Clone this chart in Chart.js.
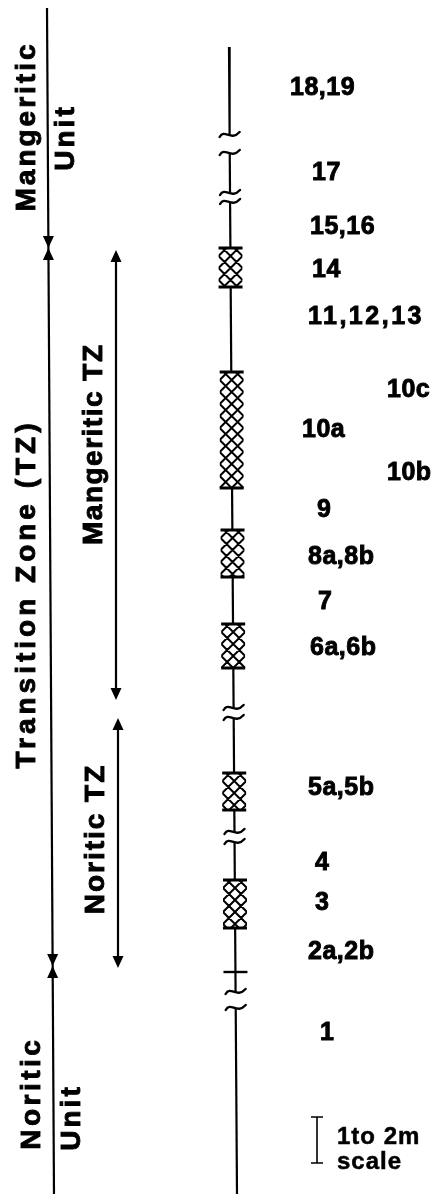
<!DOCTYPE html>
<html>
<head>
<meta charset="utf-8">
<script src="https://cdn.jsdelivr.net/npm/chart.js@4/dist/chart.umd.min.js"></script>
<style>
html,body{margin:0;padding:0;background:#fff;}
#wrap{width:443px;height:1194px;}
</style>
</head>
<body>
<div id="wrap"><canvas id="c" width="443" height="1194"></canvas></div>
<script>
// ---- data (depth levels along the section, top = 0) ----
const sampleLabels = ['18,19','17','15,16','14','11,12,13','10c','10a','10b','9','8a,8b','7','6a,6b','5a,5b','4','3','2a,2b','1'];
const sampleLevels = [88,173,227,270,317,390,430,473,510,557,602,648,788,863,903,952,1033];
const sampleColumnX = [290,312,310,312,308,387,302,387,317,308,318,310,308,315,315,308,320];

const segmentTops    = [47,153,202,718,842,1008];
const segmentBottoms = [135,193,708,832,992,1194];

const hatchedTops    = [248,372,530,624,773,880];
const hatchedBottoms = [287,488,577,668,810,928];

const tickLevels = [972];

const unitBoundaries = [248,966];          // Mangeritic Unit / TZ / Noritic Unit
const subzoneNames = ['Mangeritic TZ','Noritic TZ'];
const subzoneTops    = [250,718];
const subzoneBottoms = [700,968];

const scaleBarTop = 1117, scaleBarBottom = 1163;

// ---- layout helpers (pixel-equivalent data space) ----
const W = 443, H = 1194;
const colX = y => 229 + (y - 47) / (1194 - 47) * 8;
const leftX = y => 47 + (y - 8) / (1194 - 8) * 7;
const subzoneX = [116,118];

const datasets = [];
for (let i = 0; i < segmentTops.length; i++) {
  datasets.push({
    data: [{x: colX(segmentTops[i]), y: segmentTops[i]}, {x: colX(segmentBottoms[i]), y: segmentBottoms[i]}],
    showLine: true, borderColor: '#000', borderWidth: 2.2, pointRadius: 0
  });
}
datasets.push({
  data: [{x: leftX(8), y: 8}, {x: leftX(H), y: H}],
  showLine: true, borderColor: '#000', borderWidth: 2.2, pointRadius: 0
});
for (let i = 0; i < subzoneTops.length; i++) {
  datasets.push({
    data: [{x: subzoneX[i], y: subzoneTops[i] + 6}, {x: subzoneX[i], y: subzoneBottoms[i] - 6}],
    showLine: true, borderColor: '#000', borderWidth: 2.2, pointRadius: 0
  });
}

function arrowHead(ctx, x, y, dir) { // dir: 1 = pointing down, -1 = pointing up
  ctx.beginPath();
  ctx.moveTo(x, y);
  ctx.lineTo(x - 5.5, y - dir * 12);
  ctx.lineTo(x + 5.5, y - dir * 12);
  ctx.closePath();
  ctx.fill();
}

const FONT = '"Liberation Sans", Arial, sans-serif';
function boldText(ctx, txt, x, y) {
  ctx.lineWidth = 0.9;
  ctx.strokeText(txt, x, y);
  ctx.fillText(txt, x, y);
}
function rotText(ctx, txt, x, y, size, spacing) {
  ctx.save();
  ctx.translate(x, y);
  ctx.rotate(-Math.PI / 2);
  ctx.font = 'bold ' + size + 'px ' + FONT;
  ctx.letterSpacing = spacing + 'px';
  ctx.textAlign = 'center';
  ctx.textBaseline = 'middle';
  boldText(ctx, txt, spacing / 2, 0);
  ctx.restore();
}

const sectionPlugin = {
  id: 'section',
  afterDatasetsDraw(chart) {
    const ctx = chart.ctx, sx = chart.scales.x, sy = chart.scales.y;
    const px = v => sx.getPixelForValue(v), py = v => sy.getPixelForValue(v);
    ctx.save();
    ctx.fillStyle = '#000';
    ctx.strokeStyle = '#000';

    // hatched intervals
    for (let i = 0; i < hatchedTops.length; i++) {
      const t = py(hatchedTops[i]), b = py(hatchedBottoms[i]);
      const cx = px(colX((hatchedTops[i] + hatchedBottoms[i]) / 2));
      const l = cx - 12, r = cx + 12;
      ctx.fillStyle = '#fff';
      ctx.fillRect(l, t, 24, b - t);
      ctx.fillStyle = '#000';
      ctx.save();
      ctx.beginPath(); ctx.rect(l, t, 24, b - t); ctx.clip();
      ctx.lineWidth = 2;
      ctx.beginPath();
      for (let k = -40; k < (b - t) + 40; k += 12) {
        ctx.moveTo(l, t + k); ctx.lineTo(r, t + k + 24);
        ctx.moveTo(l, t + k + 24); ctx.lineTo(r, t + k);
      }
      ctx.stroke();
      ctx.restore();
      ctx.lineWidth = 3;
      ctx.beginPath();
      ctx.moveTo(l, t); ctx.lineTo(r, t);
      ctx.moveTo(l, b); ctx.lineTo(r, b);
      ctx.stroke();
    }

    // break symbols
    ctx.lineWidth = 2.4;
    ctx.lineCap = 'round';
    const tilde = (yv) => {
      const cx = px(colX(yv)), y = py(yv);
      ctx.beginPath();
      ctx.moveTo(cx - 10, y + 2);
      ctx.bezierCurveTo(cx - 5, y - 7, cx + 1, y + 7, cx + 10, y - 3);
      ctx.stroke();
    };
    for (let i = 0; i < segmentTops.length; i++) {
      if (i > 0) tilde(segmentTops[i]);
      if (i < segmentTops.length - 1) tilde(segmentBottoms[i]);
    }
    ctx.lineCap = 'butt';
    // ticks
    tickLevels.forEach(v => {
      const cx = px(colX(v)), y = py(v);
      ctx.lineWidth = 2.4;
      ctx.beginPath(); ctx.moveTo(cx - 12, y); ctx.lineTo(cx + 12, y); ctx.stroke();
    });

    // unit boundary arrows on the left line
    unitBoundaries.forEach(v => {
      const x = px(leftX(v)), y = py(v);
      arrowHead(ctx, x, y, 1);
      arrowHead(ctx, x, y, -1);
    });
    // subzone arrows
    for (let i = 0; i < subzoneTops.length; i++) {
      arrowHead(ctx, px(subzoneX[i]), py(subzoneTops[i]), -1);
      arrowHead(ctx, px(subzoneX[i]), py(subzoneBottoms[i]), 1);
    }

    // rotated titles
    rotText(ctx, 'Mangeritic', px(27), py(128), 28, 3);
    rotText(ctx, 'Unit', px(66), py(139), 28, 3);
    rotText(ctx, 'Transition Zone (TZ)', px(27), py(596), 28, 4);
    rotText(ctx, subzoneNames[0], px(94), py(445), 28, 1.5);
    rotText(ctx, subzoneNames[1], px(96), py(840), 28, 2);
    rotText(ctx, 'Noritic', px(32), py(1095), 28, 3.5);
    rotText(ctx, 'Unit', px(72), py(1119), 28, 3);

    // sample labels
    ctx.font = 'bold 25px ' + FONT;
    ctx.textAlign = 'left';
    ctx.textBaseline = 'middle';
    for (let i = 0; i < sampleLabels.length; i++) {
      ctx.letterSpacing = sampleLabels[i] === '11,12,13' ? '2.5px' : '0.5px';
      boldText(ctx, sampleLabels[i], px(sampleColumnX[i]), py(sampleLevels[i]));
    }

    // scale bar
    ctx.lineWidth = 1.6;
    const bx = px(317), bt = py(scaleBarTop), bb = py(scaleBarBottom);
    ctx.beginPath();
    ctx.moveTo(bx, bt); ctx.lineTo(bx, bb);
    ctx.moveTo(bx - 6, bt); ctx.lineTo(bx + 6, bt);
    ctx.moveTo(bx - 6, bb); ctx.lineTo(bx + 6, bb);
    ctx.stroke();
    ctx.letterSpacing = '1px';
    ctx.font = 'bold 24px ' + FONT;
    ctx.lineWidth = 0.5;
    ctx.strokeText('1to 2m', px(337), py(1137));
    ctx.fillText('1to 2m', px(337), py(1137));
    ctx.strokeText('scale', px(337), py(1162));
    ctx.fillText('scale', px(337), py(1162));
    ctx.restore();
  }
};

new Chart(document.getElementById('c'), {
  type: 'scatter',
  data: { datasets },
  options: {
    responsive: false,
    devicePixelRatio: 1,
    animation: false,
    layout: { padding: 0 },
    plugins: { legend: { display: false }, tooltip: { enabled: false } },
    scales: {
      x: { type: 'linear', min: 0, max: W, display: false },
      y: { type: 'linear', min: 0, max: H, reverse: true, display: false }
    }
  },
  plugins: [sectionPlugin]
});
</script>
</body>
</html>
